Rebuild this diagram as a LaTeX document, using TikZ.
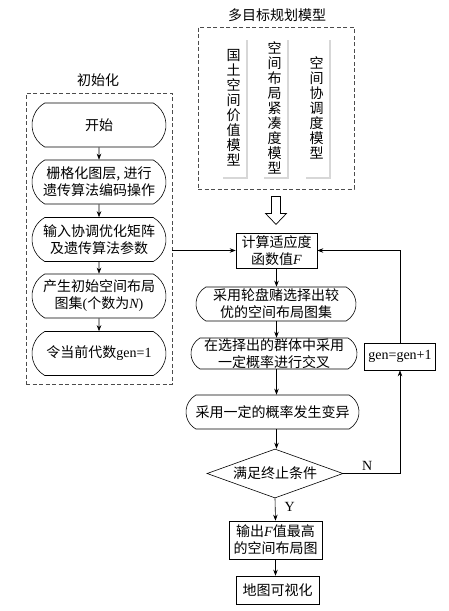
\documentclass[tikz,border=0pt]{standalone}
\usepackage{fontspec}
\setmainfont{Noto Sans CJK SC}
\newfontfamily\lat{Liberation Serif}
\usetikzlibrary{arrows.meta,shapes.misc,shapes.geometric,shadows}

\begin{document}
\begin{tikzpicture}[x=1pt,y=-1pt,font=\fontsize{14pt}{17pt}\selectfont,
		every node/.style={inner sep=0pt,align=center},
		line width=0.6pt,>={Stealth[length=6pt,width=4.5pt]},
		dashframe/.style={draw=black!70,line width=0.8pt,dash pattern=on 4pt off 2.5pt},
		modelcol/.style={fill=white,minimum width=25pt,minimum height=139pt,font=\fontsize{14pt}{15pt}\selectfont,
			drop shadow={fill=black!45,opacity=0.35,shadow xshift=1.5pt,shadow yshift=-1.5pt}},
		roundbox/.style={draw,rounded rectangle,rounded rectangle arc length=120,minimum width=134pt,minimum height=44pt},
		plainbox/.style={draw,rectangle},
		decision/.style={draw,diamond,aspect=2.8,minimum width=136pt,minimum height=49pt}]
		\useasboundingbox (0,0) rectangle (449,611);
		%Titles and frames
		\node (modtitle) at (277,15) {多目标规划模型};
		\node (inittitle) at (98,80) {初始化};
		\node[dashframe,minimum width=156pt,minimum height=162pt] (models) at (276,108) {};
		\node[dashframe,minimum width=146pt,minimum height=291pt] (init) at (99,238.5) {};
		
		%models
		\node[modelcol] (value) at (233.5,107.5) {国\\土\\空\\间\\价\\值\\模\\型};
		\node[modelcol] (compact) at (274.5,107.5) {空\\间\\布\\局\\紧\\凑\\度\\模\\型};
		\node[modelcol] (coord) at (316.5,107.5) {空\\间\\协\\调\\度\\模\\型};
		%hollow arrow
		\draw[line width=0.7pt] (models.south) ++(-4.5,7) -- ++(9,0) -- ++(0,17) -- ++(6,0) -- ++(-10.5,11)
			-- ++(-10.5,-11) -- ++(6,0) -- cycle;
		
		%initialisation
		\node[roundbox] (start) at (99,125) {开始};
		\node[roundbox] (raster) at (99,182) {栅格化图层, 进行\\遗传算法编码操作};
		\node[roundbox] (input) at (99,239.5) {输入协调优化矩阵\\及遗传算法参数};
		\node[roundbox] (popu) at (99,296) {产生初始空间布局\\图集{\lat(}个数为{\lat\itshape N}{\lat)}};
		\node[roundbox] (gen0) at (99,353.5) {令当前代数{\lat gen=1}};
		\draw[->] (start) -- (raster);
		\draw[->] (raster) -- (input);
		\draw[->] (input) -- (popu);
		\draw[->] (popu) -- (gen0);
		
		%loop
		\node[plainbox,minimum width=81pt,minimum height=35pt] (fitness) at (276.5,250.5) {计算适应度\\函数值{\lat\itshape F}};
		\node[roundbox,minimum width=160pt,minimum height=34pt] (select) at (276,304) {采用轮盘赌选择出较\\优的空间布局图集};
		\node[roundbox,minimum width=166pt,minimum height=31pt] (cross) at (274,353.5) {在选择出的群体中采用\\一定概率进行交叉};
		\node[roundbox,minimum width=173pt,minimum height=34pt] (mutate) at (272.5,412) {采用一定的概率发生变异};
		\node[decision] (stop) at (275,473.5) {满足终止条件};
		\node[plainbox,minimum width=93pt,minimum height=38pt] (output) at (275.5,540) {输出{\lat\itshape F}值最高\\的空间布局图};
		\node[plainbox,minimum width=83pt,minimum height=28pt] (mapvis) at (277.5,590) {地图可视化};
		\node[plainbox,minimum width=71pt,minimum height=27pt] (gen) at (400,356.5) {\lat gen=gen+1};
		
		\draw[->] (init.east |- fitness.west) -- (fitness.west);
		\draw[->] (fitness.south) -- (fitness.south |- select.north);
		\draw[->] (fitness.south |- select.south) -- (fitness.south |- cross.north);
		\draw[->] (fitness.south |- cross.south) -- (fitness.south |- mutate.north);
		\draw[->] (fitness.south |- mutate.south) -- (fitness.south |- stop.north);
		\draw[->] (stop.south) -- (output.north) node[pos=0.4,right=9pt] {\lat Y};
		\draw[->] (output) -- (output |- mapvis.north);
		\draw[->] (stop.east) -- (gen.south |- stop.east) node[pos=0.42,above=3pt] {\lat N} -- (gen.south);
		\draw[->] (gen.north) -- (gen.north |- fitness.east) -- (fitness.east);
		
	\end{tikzpicture}
\end{document}
